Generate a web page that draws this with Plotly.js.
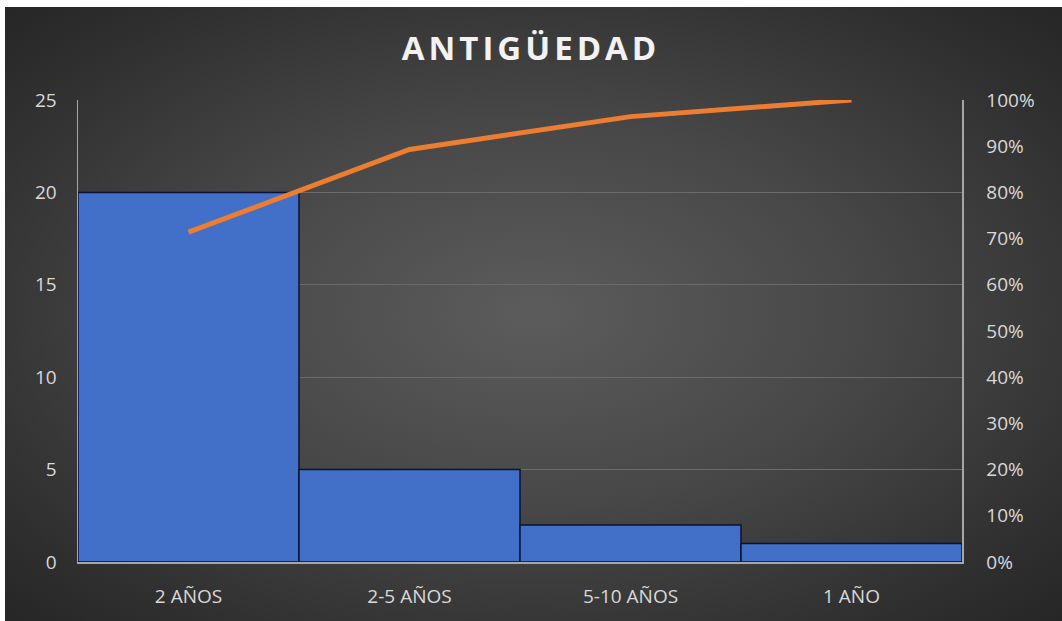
<!DOCTYPE html>
<html>
<head>
<meta charset="utf-8">
<script src="https://cdn.plot.ly/plotly-3.0.1.min.js"></script>
<style>
  html, body { margin: 0; padding: 0; background: #ffffff; width: 1062px; height: 621px; overflow: hidden; }
  #bg { position: absolute; left: 5px; top: 7px; width: 1057px; height: 614px;
        background: radial-gradient(ellipse at 50% 50%, #5c5c5c 0%, #474747 45%, #2e2e2e 85%, #262626 100%); }
  #chart { position: absolute; left: 0; top: 0; width: 1062px; height: 621px; }
  #chart .gtitle { letter-spacing: 4px; }
</style>
</head>
<body>
<div id="bg"></div>
<div id="chart"></div>
<script>
const categories = ["2 AÑOS", "2-5 AÑOS", "5-10 AÑOS", "1 AÑO"];
const counts = [20, 5, 2, 1];
const cumulativePct = [0.714, 0.893, 0.964, 1.0];
const leftTicks = [0, 5, 10, 15, 20, 25];
const rightTicks = [0, 0.1, 0.2, 0.3, 0.4, 0.5, 0.6, 0.7, 0.8, 0.9, 1.0];
const rightTickText = ["0%", "10%", "20%", "30%", "40%", "50%", "60%", "70%", "80%", "90%", "100%"];

const fontFam = "'Open Sans', 'Noto Sans', sans-serif";

const traces = [
  {
    type: "bar",
    x: categories,
    y: counts,
    marker: { color: "#4270c8", line: { color: "#0b1233", width: 1.5 } },
    hoverinfo: "x+y",
    showlegend: false
  },
  {
    type: "scatter",
    mode: "lines",
    x: categories,
    y: cumulativePct,
    yaxis: "y2",
    line: { color: "#ed7d31", width: 5 },
    showlegend: false
  }
];

const layout = {
  width: 1062,
  height: 621,
  paper_bgcolor: "rgba(0,0,0,0)",
  plot_bgcolor: "rgba(0,0,0,0)",
  margin: { l: 78, r: 100, t: 100, b: 59 },
  bargap: 0,
  title: {
    text: "<b>ANTIGÜEDAD</b>",
    font: { family: fontFam, size: 33, color: "#f2f2f2" },
    x: 0.5, xanchor: "center",
    y: 0.922, yanchor: "middle"
  },
  xaxis: {
    type: "category",
    showgrid: false,
    showline: true,
    linecolor: "#a6a6a6",
    linewidth: 1.5,
    ticks: "",
    tickfont: { family: fontFam, size: 19, color: "#d9d9d9" },
    ticklabelstandoff: 17,
    fixedrange: true
  },
  yaxis: {
    range: [0, 25],
    tickvals: leftTicks,
    showgrid: true,
    gridcolor: "#6b6b6b",
    gridwidth: 1,
    showline: true,
    linecolor: "#a6a6a6",
    linewidth: 1.5,
    zeroline: false,
    ticks: "",
    tickfont: { family: fontFam, size: 19, color: "#d9d9d9" },
    ticklabelstandoff: 16,
    fixedrange: true
  },
  yaxis2: {
    overlaying: "y",
    side: "right",
    range: [0, 1],
    tickvals: rightTicks,
    ticktext: rightTickText,
    showgrid: false,
    showline: true,
    linecolor: "#a6a6a6",
    linewidth: 1.5,
    zeroline: false,
    ticks: "",
    tickfont: { family: fontFam, size: 19, color: "#d9d9d9" },
    ticklabelstandoff: 19,
    fixedrange: true
  }
};

Plotly.newPlot("chart", traces, layout, { displayModeBar: false, staticPlot: true });
</script>
</body>
</html>
